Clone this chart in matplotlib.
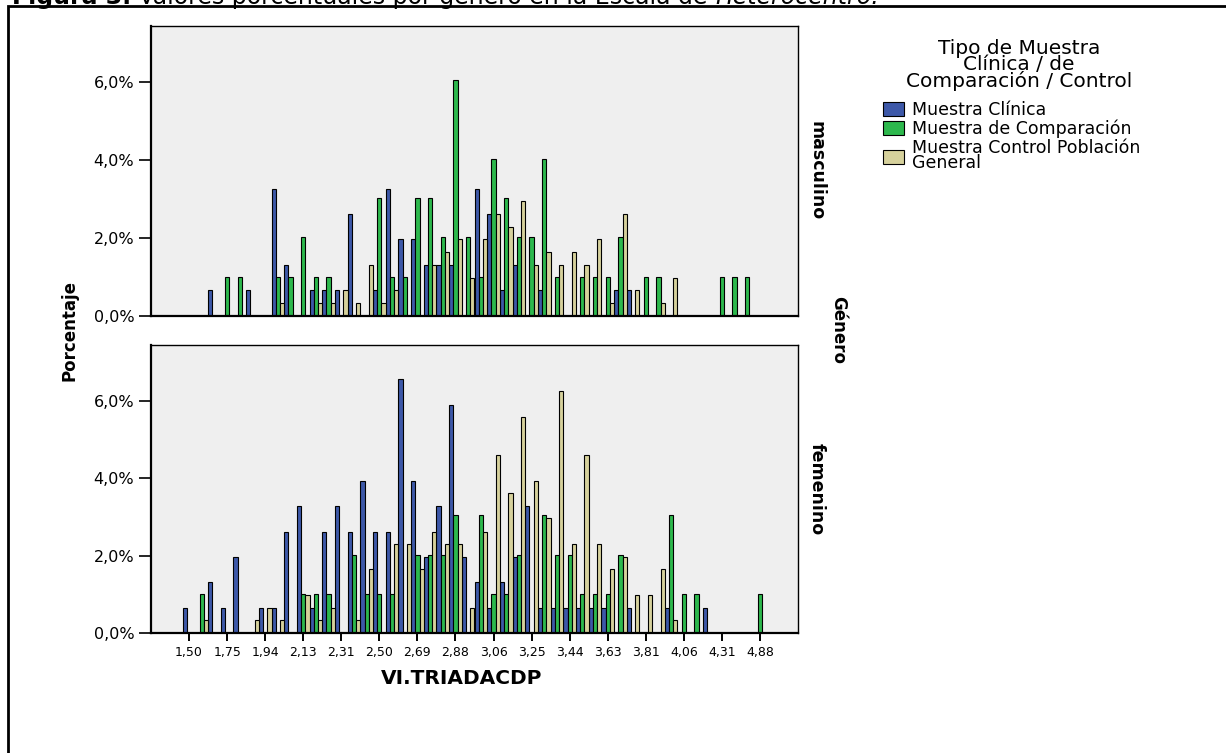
import matplotlib
matplotlib.use('Agg')
import matplotlib.pyplot as plt
import numpy as np
from matplotlib.patches import Rectangle
from matplotlib.ticker import FuncFormatter

plt.rcParams['font.family'] = ['DejaVu Sans']

W, H = 1226, 753

# categorias de VI.TRIADACDP (en el eje solo se rotula una de cada tres)
categorias = ['1,50', '1,56', '1,69', '1,75', '1,81', '1,88', '1,94', '2,00', '2,06', '2,13',
              '2,19', '2,25', '2,31', '2,38', '2,44', '2,50', '2,56', '2,63', '2,69', '2,75',
              '2,81', '2,88', '2,94', '3,00', '3,06', '3,13', '3,19', '3,25', '3,31', '3,38',
              '3,44', '3,50', '3,56', '3,63', '3,69', '3,75', '3,81', '3,88', '3,94', '4,06',
              '4,13', '4,19', '4,31', '4,50', '4,63', '4,88']

muestras = ['Muestra Clínica', 'Muestra de Comparación', 'Muestra Control Población\nGeneral']
colores = ['#3d58a8', '#2db84d', '#d6d19c']

# porcentajes - masculino
masc_clinica = [0, 0, 0.67, 0, 0, 0.67, 0, 3.27, 1.31, 0,
                0.67, 0.67, 0.67, 2.62, 0, 0.67, 3.27, 1.97, 1.97, 1.31,
                1.31, 1.31, 0, 3.27, 2.62, 0.67, 1.31, 0, 0.67, 0,
                0, 0, 0, 0, 0.67, 0.67, 0, 0, 0, 0,
                0, 0, 0, 0, 0, 0]
masc_comparacion = [0, 0, 0, 1.0, 1.0, 0, 0, 1.0, 1.0, 2.02,
                    1.0, 1.0, 0, 0, 0, 3.04, 1.0, 1.0, 3.04, 3.04,
                    2.02, 6.07, 2.02, 1.0, 4.04, 3.03, 2.02, 2.02, 4.04, 1.0,
                    0, 1.0, 1.0, 1.0, 2.02, 0, 1.0, 1.0, 0, 0,
                    0, 0, 1.0, 1.0, 1.0, 0]
masc_control = [0, 0, 0, 0, 0, 0, 0, 0.33, 0, 0,
                0.33, 0.33, 0.67, 0.33, 1.31, 0.33, 0.67, 0, 0, 1.31,
                1.64, 1.97, 0.98, 1.97, 2.62, 2.29, 2.95, 1.31, 1.64, 1.31,
                1.64, 1.31, 1.97, 0.33, 2.62, 0.67, 0, 0.33, 0.98, 0,
                0, 0, 0, 0, 0, 0]

# porcentajes - femenino
fem_clinica = [0.65, 0, 1.31, 0.65, 1.97, 0, 0.65, 0.65, 2.62, 3.28,
               0.65, 2.62, 3.28, 2.62, 3.94, 2.62, 2.62, 6.56, 3.94, 1.97,
               3.28, 5.91, 1.97, 1.31, 0.65, 1.31, 1.97, 3.28, 0.65, 0.65,
               0.65, 0.65, 0.65, 0.65, 0, 0.65, 0, 0, 0.65, 0,
               0, 0.65, 0, 0, 0, 0]
fem_comparacion = [0, 1.01, 0, 0, 0, 0, 0, 0, 0, 1.01,
                   1.01, 1.01, 0, 2.03, 1.01, 1.01, 1.01, 0, 2.03, 2.03,
                   2.03, 3.05, 0, 3.05, 1.01, 1.01, 2.03, 0, 3.05, 2.03,
                   2.03, 1.01, 1.01, 1.01, 2.03, 0, 0, 0, 3.05, 1.01,
                   1.01, 0, 0, 0, 0, 1.01]
fem_control = [0, 0.33, 0, 0, 0, 0.33, 0.65, 0.33, 0, 0.98,
               0.33, 0.65, 0, 0.33, 1.65, 0, 2.30, 2.30, 1.65, 2.62,
               2.30, 2.30, 0.65, 2.62, 4.61, 3.62, 5.60, 3.94, 2.97, 6.26,
               2.30, 4.61, 2.30, 1.65, 1.97, 0.98, 0.98, 1.65, 0.33, 0,
               0, 0, 0, 0, 0, 0]

paneles = [('masculino', [masc_clinica, masc_comparacion, masc_control]),
           ('femenino', [fem_clinica, fem_comparacion, fem_control])]


def caja(izq, arriba, der, abajo):
    # rectangulo en pixeles -> fraccion de figura
    return [izq / W, 1 - abajo / H, (der - izq) / W, (abajo - arriba) / H]


fig = plt.figure(figsize=(W / 100, H / 100), dpi=100)
posiciones = [caja(151, 26, 798, 316), caja(151, 345, 798, 633)]

x = np.arange(len(categorias))
ancho = 1 / 3
pct = FuncFormatter(lambda v, p: '{:.1f}%'.format(v).replace('.', ','))

barras = []
for k, (genero, series) in enumerate(paneles):
    ax = fig.add_axes(posiciones[k])
    ax.set_facecolor('#efefef')
    barras = []
    for j, serie in enumerate(series):
        b = ax.bar(x + (j - 1) * ancho, serie, ancho, color=colores[j],
                   edgecolor='black', linewidth=0.8)
        barras.append(b)
    ax.set_xlim(-3, len(categorias) + 2)
    ax.set_ylim(0, 7.45)
    ax.set_yticks([0, 2, 4, 6])
    ax.yaxis.set_major_formatter(pct)
    ax.tick_params(axis='y', direction='out', length=9, width=1.2, labelsize=11.5, pad=3)
    for s in ax.spines.values():
        s.set_linewidth(1.0)
    ax.spines['left'].set_linewidth(1.6)
    ax.spines['bottom'].set_linewidth(1.6)
    if k == 0:
        ax.tick_params(axis='x', bottom=False, labelbottom=False)
    else:
        ax.set_xticks(x[::3])
        ax.set_xticklabels(categorias[::3])
        ax.tick_params(axis='x', direction='out', length=5.5, width=1.4, labelsize=9, pad=4)
    ax.text(1.029, 0.5, genero, transform=ax.transAxes, rotation=-90,
            ha='center', va='center', fontsize=12.5, fontweight='bold')

fig.text(838 / W, 1 - 330 / H, 'Género', rotation=-90, ha='center', va='center',
         fontsize=12, fontweight='bold')
fig.text(70 / W, 1 - 330 / H, 'Porcentaje', rotation=90, ha='center', va='center',
         fontsize=12, fontweight='bold')
fig.text(462 / W, 1 - 678 / H, 'VI.TRIADACDP', ha='center', va='center',
         fontsize=14.5, fontweight='bold')

# titulo de la leyenda
fig.text(1019 / W, 1 - 65 / H, 'Tipo de Muestra\nClínica / de\nComparación / Control',
         ha='center', va='center', multialignment='center', fontsize=14.5, linespacing=0.82)

leg = fig.legend(barras, muestras, loc='upper left', bbox_to_anchor=(883 / W, 1 - 101 / H),
                 frameon=False, fontsize=12.5, handlelength=1.2, handleheight=0.85,
                 handletextpad=0.45, labelspacing=0.05, borderpad=0, borderaxespad=0)
for t in leg.get_texts():
    t.set_linespacing(0.8)

# marco de la figura (sale por la derecha y por abajo)
fig.add_artist(Rectangle((8 / W, -0.05), 1.1, 1 - 6 / H + 0.05, transform=fig.transFigure,
                         fill=False, edgecolor='black', linewidth=2, clip_on=False))

# titulo cortado arriba, como en el original
r = fig.canvas.get_renderer()
x0 = 12
for txt, kw in [('Figura 3.', dict(fontweight='bold')),
                (' Valores porcentuales por género en la Escala de ', {}),
                ('Heterocentro.', dict(style='italic'))]:
    t = fig.text(x0 / W, 1 - 4 / H, txt, fontsize=17, va='baseline', **kw)
    x0 = t.get_window_extent(renderer=r).x1

fig.savefig('out.png', dpi=100)
